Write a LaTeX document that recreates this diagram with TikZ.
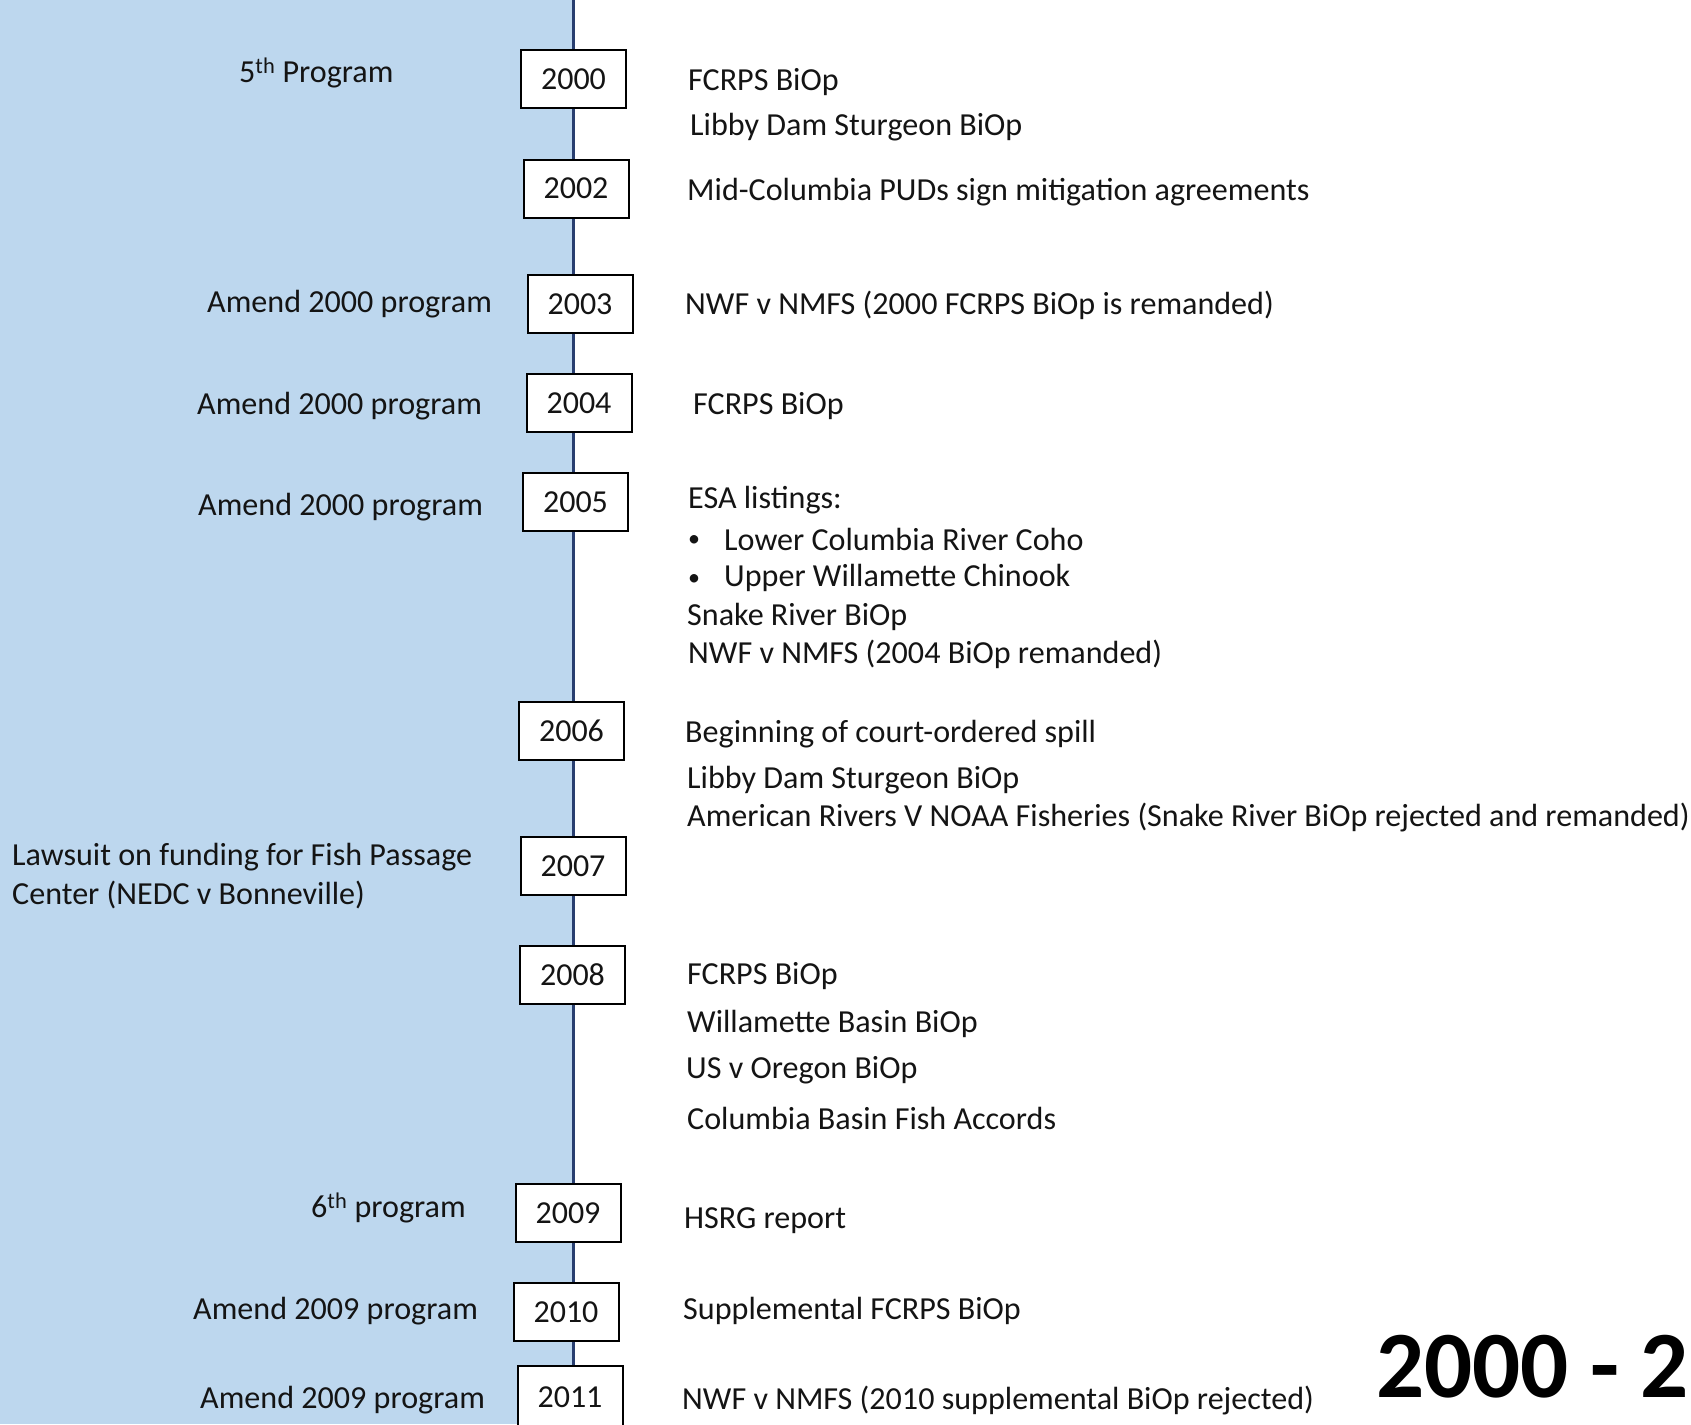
\documentclass[tikz,border=0pt]{standalone}
\usepackage{fontspec}
\setmainfont{Carlito}
\definecolor{bandblue}{HTML}{BDD7EE}
\definecolor{linenavy}{RGB}{40,62,112}
\definecolor{txt}{RGB}{20,20,20}
\begin{document}
\begin{tikzpicture}[x=1pt,y=-1pt,
  yearbox/.style={draw=black,line width=2pt,fill=white,minimum width=105pt,minimum height=58pt,inner sep=0pt,text=txt,font=\fontsize{32}{38}\selectfont},
  evt/.style={anchor=west,inner sep=0pt,text=txt,font=\fontsize{32.1}{39}\selectfont},
  bul/.style={anchor=center,inner sep=0pt,text=txt,font=\fontsize{24}{30}\selectfont},
  lft/.style={anchor=west,inner sep=0pt,text=txt,font=\fontsize{32.1}{39}\selectfont}]
\useasboundingbox (0,0) rectangle (1691,1424);
\fill[bandblue] (0,0) rectangle (573,1424);
\coordinate (ltop) at (573.5,0);
\coordinate (lbot) at (573.5,1424);
\draw[linenavy,line width=2.5pt] (ltop) -- (lbot);
% year boxes
\node[yearbox] (y2000) at (573.5,79) {2000};
\node[yearbox] (y2002) at (576,188.5) {2002};
\node[yearbox] (y2003) at (580,304) {2003};
\node[yearbox] (y2004) at (579,403) {2004};
\node[yearbox] (y2005) at (575.5,502) {2005};
\node[yearbox] (y2006) at (571.5,731) {2006};
\node[yearbox] (y2007) at (573,866) {2007};
\node[yearbox] (y2008) at (572.5,975) {2008};
\node[yearbox] (y2009) at (568,1213) {2009};
\node[yearbox] (y2010) at (566,1312) {2010};
\node[yearbox,minimum height=66pt,text depth=0pt] (y2011) at (570,1399) {\raisebox{4pt}{2011}};
% left texts
\node[lft] (l2000) at (239,73) {5\textsuperscript{th} Program};
\node[lft] (l2003) at (207,304) {Amend 2000 program};
\node[lft] (l2004) at (197,406) {Amend 2000 program};
\node[lft] (l2005) at (198,507) {Amend 2000 program};
\node[lft] (l2007a) at (12,857) {Lawsuit on funding for Fish Passage};
\node[lft] (l2007b) at (12,895) {Center (NEDC v Bonneville)};
\node[lft] (l2009) at (311,1208) {6\textsuperscript{th} program};
\node[lft] (l2010) at (193,1311) {Amend 2009 program};
\node[lft] (l2011) at (200,1400) {Amend 2009 program};
% right texts
\node[evt] (r1) at (688,82) {FCRPS BiOp};
\node[evt] (r2) at (690,127) {Libby Dam Sturgeon BiOp};
\node[evt] (r3) at (687,192) {Mid-Columbia PUDs sign mitigation agreements};
\node[evt] (r4) at (685,305) {NWF v NMFS (2000 FCRPS BiOp is remanded)};
\node[evt] (r5) at (693,406) {FCRPS BiOp};
\node[evt] (r6) at (688,500) {ESA listings:};
\node[bul] (r7b) at (694,541) {•};
\node[evt] (r7) at (724,539) {Lower Columbia River Coho};
\node[bul] (r8b) at (694,580) {•};
\node[evt] (r8) at (724,578) {Upper Willamette Chinook};
\node[evt] (r9) at (687,617) {Snake River BiOp};
\node[evt] (r10) at (688,654) {NWF v NMFS (2004 BiOp remanded)};
\node[evt] (r11) at (685,734) {Beginning of court-ordered spill};
\node[evt] (r12) at (687,780) {Libby Dam Sturgeon BiOp};
\node[evt] (r13) at (687,817) {American Rivers V NOAA Fisheries (Snake River BiOp rejected and remanded)};
\node[evt] (r14) at (687,976) {FCRPS BiOp};
\node[evt] (r15) at (687,1024) {Willamette Basin BiOp};
\node[evt] (r16) at (686,1070) {US v Oregon BiOp};
\node[evt] (r17) at (687,1118) {Columbia Basin Fish Accords};
\node[evt] (r18) at (684,1221) {HSRG report};
\node[evt] (r19) at (683,1311) {Supplemental FCRPS BiOp};
\node[evt] (r20) at (682,1400) {NWF v NMFS (2010 supplemental BiOp rejected)};
% title
\node[anchor=base west,inner sep=0pt,font=\fontsize{95}{114}\bfseries\selectfont] (title) at (1376,1397) {2000 - 2};
\end{tikzpicture}
\end{document}
